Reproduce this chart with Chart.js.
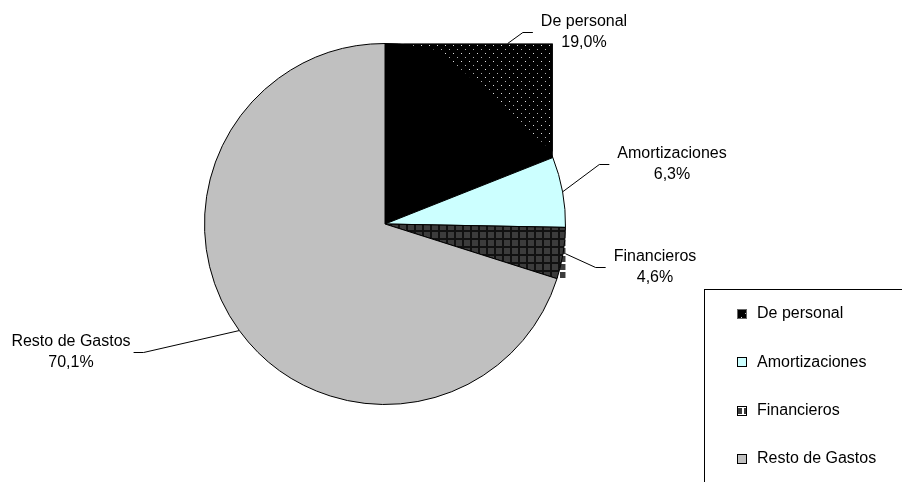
<!DOCTYPE html>
<html>
<head>
<meta charset="utf-8">
<script src="https://cdn.jsdelivr.net/npm/chart.js@4.4.0/dist/chart.umd.min.js"></script>
<style>
  body { margin: 0; background: #fff; }
  #grafico { display: block; }
</style>
</head>
<body>
<canvas id="grafico" width="902" height="482"></canvas>
<script>
// datos del gráfico
const categorias = ['De personal', 'Amortizaciones', 'Financieros', 'Resto de Gastos'];
const porcentajes = [19.0, 6.3, 4.6, 70.1];

const FUENTE = '16px "Liberation Sans", Arial, sans-serif';
const ctx = document.getElementById('grafico').getContext('2d');

function crearPatron(tam, dibujar) {
    const c = document.createElement('canvas');
    c.width = tam;
    c.height = tam;
    dibujar(c.getContext('2d'), tam);
    return ctx.createPattern(c, 'repeat');
}

const patronPuntos = crearPatron(8, function (g) {
    g.fillStyle = '#000';
    g.fillRect(0, 0, 8, 8);
    g.fillStyle = '#b0b0b0';
    g.fillRect(1, 1, 1, 1);
    g.fillStyle = '#e0e0e0';
    g.fillRect(5, 5, 1, 1);
});

function patronCuadros(colorLinea) {
    return crearPatron(8, function (g) {
        g.fillStyle = colorLinea;
        g.fillRect(0, 0, 8, 8);
        g.fillStyle = '#3c3c3c';
        g.fillRect(0, 0, 6, 6);
    });
}
const cuadrosSector = patronCuadros('#111111');
const cuadrosCaja = patronCuadros('#ffffff');

const colores = ['#000000', '#CCFFFF', cuadrosSector, '#C0C0C0'];
const coloresLeyenda = [patronPuntos, '#CCFFFF', cuadrosCaja, '#C0C0C0'];
const bordesLeyenda = ['#666', '#000', '#000', '#000'];

// el original rellena la caja de algunos sectores, no solo el sector
const rellenoCaja = { 0: '#000000', 2: cuadrosCaja };

// posicion de las etiquetas (centro del texto, primera linea, lado)
const etiquetas = [
    { cx: 584, y: 22, lado: 1 },
    { cx: 672, y: 154, lado: 1 },
    { cx: 655, y: 257, lado: 1 },
    { cx: 71, y: 342, lado: -1 }
];

function cajaSector(arco) {
    const p = arco.getProps(['x', 'y', 'startAngle', 'endAngle', 'outerRadius'], true);
    const angulos = [p.startAngle, p.endAngle];
    for (let k = -4; k <= 8; k++) {
        const a = k * Math.PI / 2;
        if (a > p.startAngle && a < p.endAngle) angulos.push(a);
    }
    let x0 = p.x, x1 = p.x, y0 = p.y, y1 = p.y;
    angulos.forEach(function (a) {
        const x = p.x + p.outerRadius * Math.cos(a);
        const y = p.y + p.outerRadius * Math.sin(a);
        x0 = Math.min(x0, x); x1 = Math.max(x1, x);
        y0 = Math.min(y0, y); y1 = Math.max(y1, y);
    });
    return { x0: x0, y0: y0, x1: x1, y1: y1 };
}

const pluginCajas = {
    id: 'cajas',
    beforeDatasetsDraw(chart) {
        const c = chart.ctx;
        const arcos = chart.getDatasetMeta(0).data;
        c.save();
        Object.keys(rellenoCaja).forEach(function (i) {
            const b = cajaSector(arcos[i]);
            c.fillStyle = rellenoCaja[i];
            c.fillRect(b.x0, b.y0, b.x1 - b.x0, b.y1 - b.y0);
        });
        c.restore();
    },
    afterDatasetsDraw(chart) {
        // puntos claros en la esquina superior derecha de "De personal"
        const c = chart.ctx;
        const b = cajaSector(chart.getDatasetMeta(0).data[0]);
        const w = b.x1 - b.x0, h = b.y1 - b.y0;
        c.save();
        c.beginPath();
        c.moveTo(b.x0 + 0.1 * w, b.y0);
        c.lineTo(b.x1, b.y0);
        c.lineTo(b.x1, b.y0 + 0.6 * h);
        c.lineTo(b.x0 + 0.33 * w, b.y0 + 0.04 * h);
        c.closePath();
        c.clip();
        c.fillStyle = patronPuntos;
        c.fillRect(b.x0, b.y0, w, h);
        c.restore();
    }
};

const pluginEtiquetas = {
    id: 'etiquetas',
    afterDraw(chart) {
        const c = chart.ctx;
        const arcos = chart.getDatasetMeta(0).data;
        c.save();
        c.font = FUENTE;
        c.fillStyle = '#000';
        c.strokeStyle = '#000';
        c.lineWidth = 1;
        c.textAlign = 'center';
        c.textBaseline = 'middle';
        arcos.forEach(function (arco, i) {
            const p = arco.getProps(['x', 'y', 'startAngle', 'endAngle', 'outerRadius'], true);
            const medio = (p.startAngle + p.endAngle) / 2;
            const dx = Math.cos(medio), dy = Math.sin(medio);
            let t = p.outerRadius;
            if (rellenoCaja[i] !== undefined) {
                const b = cajaSector(arco);
                const tx = dx > 0 ? (b.x1 - p.x) / dx : (b.x0 - p.x) / dx;
                const ty = dy > 0 ? (b.y1 - p.y) / dy : (b.y0 - p.y) / dy;
                t = Math.min(tx, ty);
            }
            const ax = p.x + t * dx, ay = p.y + t * dy;

            const et = etiquetas[i];
            const texto2 = porcentajes[i].toFixed(1).replace('.', ',') + '%';
            const ancho = Math.max(c.measureText(categorias[i]).width, c.measureText(texto2).width);
            const borde = et.cx - et.lado * ancho / 2;
            const medioY = et.y + 10.5;
            const finX = borde - et.lado * (et.lado > 0 ? 8 : 3);
            const codoX = finX - et.lado * 10;

            c.beginPath();
            c.moveTo(ax, ay);
            c.lineTo(codoX, medioY);
            c.lineTo(finX, medioY);
            c.stroke();

            c.fillText(categorias[i], et.cx, et.y);
            c.fillText(texto2, et.cx, et.y + 21);
        });
        c.restore();
    }
};

const pluginLeyenda = {
    id: 'leyendaCaja',
    afterDraw(chart) {
        const c = chart.ctx;
        c.save();
        c.strokeStyle = '#000';
        c.lineWidth = 1;
        c.strokeRect(704.5, 289.5, 220, 210);
        c.font = FUENTE;
        c.textAlign = 'left';
        c.textBaseline = 'middle';
        categorias.forEach(function (nombre, i) {
            const y = 314 + i * 48.3;
            c.fillStyle = coloresLeyenda[i];
            c.fillRect(737, Math.round(y) - 5, 10, 10);
            c.strokeStyle = bordesLeyenda[i];
            c.strokeRect(737.5, Math.round(y) - 4.5, 9, 9);
            c.fillStyle = '#000';
            c.fillText(nombre, 757, y);
        });
        c.restore();
    }
};

new Chart(ctx, {
    type: 'pie',
    data: {
        labels: categorias,
        datasets: [{
            data: porcentajes,
            backgroundColor: colores,
            borderColor: '#000',
            borderWidth: 1
        }]
    },
    options: {
        responsive: false,
        animation: false,
        layout: { padding: { top: 43, bottom: 77, left: 0, right: 132 } },
        plugins: {
            legend: { display: false },
            tooltip: { enabled: false }
        }
    },
    plugins: [pluginCajas, pluginEtiquetas, pluginLeyenda]
});
</script>
</body>
</html>
